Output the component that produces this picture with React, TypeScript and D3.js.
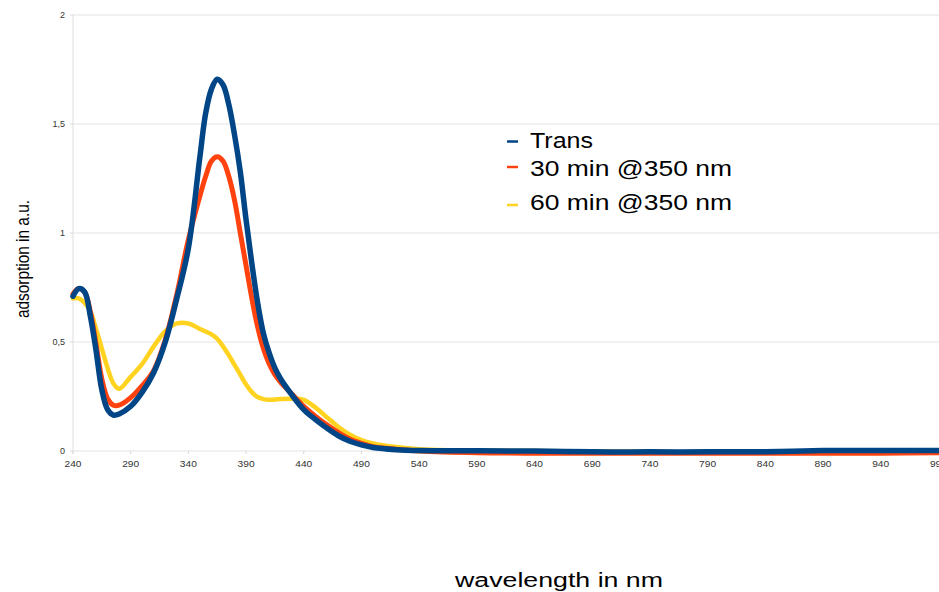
import React from "react";
import * as d3 from "d3";

// wavelength grid (nm) shared by all three spectra
const wavelengths = [
  240, 245, 250, 255, 260, 265, 270, 275, 280, 290, 300, 310, 320, 330, 340,
  350, 355, 360, 365, 370, 375, 380, 385, 390, 395, 400, 405, 410, 415, 420,
  430, 440, 450, 460, 470, 480, 490, 500, 520, 540, 590, 640, 690, 740, 790,
  840, 890, 940, 990,
];

const trans = [
  0.71, 0.745, 0.73, 0.62, 0.46, 0.28, 0.19, 0.165, 0.17, 0.205, 0.27, 0.36,
  0.5, 0.7, 0.93, 1.35, 1.55, 1.66, 1.705, 1.68, 1.59, 1.45, 1.28, 1.06, 0.86,
  0.68, 0.54, 0.45, 0.38, 0.33, 0.255, 0.19, 0.145, 0.105, 0.07, 0.045, 0.028,
  0.016, 0.006, 0.002, 0.001, 0.0, -0.004, -0.004, -0.004, -0.003, 0.002,
  0.002, 0.002,
];

const min30 = [
  0.72, 0.745, 0.73, 0.64, 0.49, 0.33, 0.24, 0.21, 0.21, 0.245, 0.3, 0.37,
  0.51, 0.72, 0.97, 1.17, 1.26, 1.33, 1.35, 1.33, 1.26, 1.15, 1.0, 0.85, 0.7,
  0.57, 0.47, 0.4, 0.35, 0.315, 0.26, 0.205, 0.16, 0.12, 0.085, 0.055, 0.035,
  0.02, 0.008, 0.0, -0.008, -0.01, -0.01, -0.01, -0.01, -0.01, -0.01, -0.01,
  -0.008,
];

const min60 = [
  0.7, 0.7, 0.68, 0.64, 0.56, 0.47, 0.38, 0.31, 0.285, 0.34, 0.4, 0.48, 0.55,
  0.585, 0.585, 0.56, 0.548, 0.535, 0.515, 0.48, 0.44, 0.395, 0.35, 0.305,
  0.27, 0.248, 0.238, 0.235, 0.236, 0.238, 0.24, 0.235, 0.2, 0.155, 0.11,
  0.075, 0.05, 0.035, 0.018, 0.008, 0.002, 0.0, -0.002, -0.004, -0.006, -0.005,
  -0.005, -0.006, -0.004,
];

const seriesNames = ["Trans", "30 min @350 nm", "60 min @350 nm"];
const seriesColors = ["#004586", "#ff420e", "#ffd320"];
const xTicks = [240, 290, 340, 390, 440, 490, 540, 590, 640, 690, 740, 790, 840, 890, 940, 990];
const yTicks = [0, 0.5, 1, 1.5, 2];

const W = 939;
const H = 592;

export default function App() {
  const x = d3.scaleLinear().domain([240, 990]).range([73, 938.4]);
  const y = d3.scaleLinear().domain([0, 2]).range([451, 15]);

  const line = d3
    .line<number>()
    .x((_, i) => x(wavelengths[i]))
    .y((v) => y(v))
    .curve(d3.curveCatmullRom);

  const allSeries = [trans, min30, min60];
  // draw yellow first, blue on top
  const drawOrder = [2, 1, 0];
  const strokeW = [5.5, 5, 4.5];

  const legendDashY = [141.5, 167, 205];
  const legendTextY = [148, 176, 210];
  const legendLen = [63, 202, 202];

  const fmt = (v: number) => String(v).replace(".", ",");

  return (
    <svg
      width={W}
      height={H}
      style={{ position: "absolute", left: 0, top: 0, background: "#fff" }}
      fontFamily="'Liberation Sans', Arial, sans-serif"
    >
      {/* gridlines */}
      {yTicks.map((t) => (
        <line key={t} x1={x(240)} x2={W} y1={y(t)} y2={y(t)} stroke="#e4e4e4" strokeWidth={1.2} />
      ))}
      <line x1={x(240)} x2={x(240)} y1={y(2)} y2={y(0) + 3} stroke="#e4e4e4" strokeWidth={1.2} />
      {yTicks.map((t) => (
        <line key={"yt" + t} x1={x(240) - 3} x2={x(240)} y1={y(t)} y2={y(t)} stroke="#d8d8d8" />
      ))}
      {xTicks.map((t) => (
        <line key={"xt" + t} x1={x(t)} x2={x(t)} y1={y(0)} y2={y(0) + 3} stroke="#d8d8d8" />
      ))}

      {/* tick labels */}
      {yTicks.map((t) => (
        <text key={"yl" + t} x={65} y={y(t)} dy="0.35em" textAnchor="end" fontSize={9} fill="#333">
          {fmt(t)}
        </text>
      ))}
      {xTicks.map((t) => (
        <text
          key={"xl" + t}
          x={x(t)}
          y={467}
          textAnchor="middle"
          fontSize={9}
          fill="#333"
          textLength={17}
          lengthAdjust="spacingAndGlyphs"
        >
          {t}
        </text>
      ))}

      {/* curves */}
      {drawOrder.map((i) => (
        <path
          key={"s" + i}
          d={line(allSeries[i]) || ""}
          fill="none"
          stroke={seriesColors[i]}
          strokeWidth={strokeW[i]}
          strokeLinejoin="round"
          strokeLinecap="round"
        />
      ))}

      {/* legend */}
      {seriesNames.map((name, i) => (
        <g key={"lg" + i}>
          <line x1={507} x2={518} y1={legendDashY[i]} y2={legendDashY[i]} stroke={seriesColors[i]} strokeWidth={2.5} />
          <text
            x={530}
            y={legendTextY[i]}
            fontSize={22}
            fill="#000"
            textLength={legendLen[i]}
            lengthAdjust="spacingAndGlyphs"
          >
            {name}
          </text>
        </g>
      ))}

      {/* axis titles */}
      <text
        transform="translate(29,259) rotate(-90)"
        textAnchor="middle"
        fontSize={18}
        fill="#000"
        textLength={118}
        lengthAdjust="spacingAndGlyphs"
      >
        adsorption in a.u.
      </text>
      <text x={455} y={587} fontSize={20} fill="#000" textLength={208} lengthAdjust="spacingAndGlyphs">
        wavelength in nm
      </text>
    </svg>
  );
}
